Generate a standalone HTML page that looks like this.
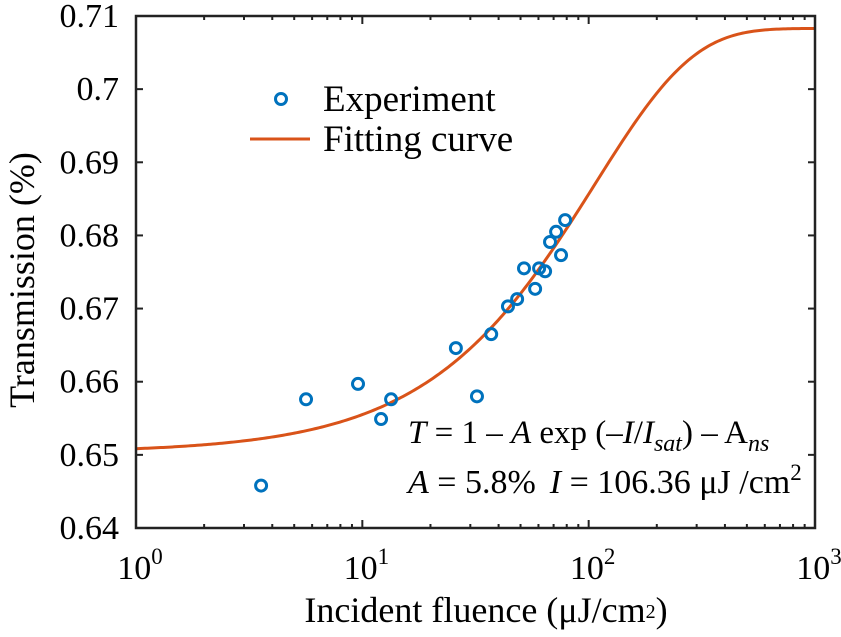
<!DOCTYPE html>
<html><head><meta charset="utf-8"><style>
body{margin:0;background:#fff;}
svg{display:block;font-family:"Liberation Serif",serif;}
</style></head><body>
<svg id="c" width="841" height="637"></svg>
<script>
const xVals=[3.57,5.64,9.57,12.1,13.4,25.9,32.1,37.1,44.0,48.3,51.8,58.0,60.4,64.2,67.5,71.8,75.5,78.7];
const yVals=[0.6458,0.6576,0.6597,0.6549,0.6576,0.6646,0.6580,0.6665,0.6703,0.6713,0.6755,0.6727,0.6755,0.6751,0.6791,0.6805,0.6773,0.6821];
const yTicks=[0.64,0.65,0.66,0.67,0.68,0.69,0.70,0.71];
const yTickLabels=["0.64","0.65","0.66","0.67","0.68","0.69","0.7","0.71"];
const xTickExps=[0,1,2,3];
const fitBase=0.6503, fitA=0.058, fitIsat=106.36;
const L=136,R=815,T=16,B=528;
const sx=v=>L+(Math.log10(v)-0)/3*(R-L);
const sy=v=>B-(v-0.64)/0.07*(B-T);
const svg=document.getElementById('c');const NS='http://www.w3.org/2000/svg';
function mk(tag,at,par){const e=document.createElementNS(NS,tag);for(const k in at)e.setAttribute(k,at[k]);(par||svg).appendChild(e);return e;}
let d='';for(let i=0;i<=300;i++){const v=Math.pow(10,i/100);const y=fitBase+fitA*(1-Math.exp(-v/fitIsat));d+=(i?'L':'M')+sx(v).toFixed(2)+','+sy(y).toFixed(2);}
const cv=mk('path',{d:d,fill:'none',stroke:'#d95319','stroke-width':3});


xVals.forEach((x,i)=>{const c=mk('circle',{cx:sx(x),cy:sy(yVals[i]),r:5.5,fill:'none',stroke:'#0072bd','stroke-width':3});

});
const bx=mk('rect',{x:L,y:T,width:R-L,height:B-T,fill:'none',stroke:'#222','stroke-width':2.5});


yTicks.forEach((v,i)=>{const y=sy(v);mk('line',{x1:L,x2:L+7,y1:y,y2:y,stroke:'#222','stroke-width':2});mk('line',{x1:R,x2:R-7,y1:y,y2:y,stroke:'#222','stroke-width':2});
const t=mk('text',{x:L-17,y:y+11,'text-anchor':'end','font-size':34});t.textContent=yTickLabels[i];

});
xTickExps.forEach(e=>{const x=sx(Math.pow(10,e));
for(let m=2;m<10&&e<3;m++){const xm=sx(m*Math.pow(10,e));mk('line',{x1:xm,x2:xm,y1:B,y2:B-4,stroke:'#222','stroke-width':2});mk('line',{x1:xm,x2:xm,y1:T,y2:T+4,stroke:'#222','stroke-width':2});}
mk('line',{x1:x,x2:x,y1:B,y2:B-8,stroke:'#222','stroke-width':2});mk('line',{x1:x,x2:x,y1:T,y2:T+8,stroke:'#222','stroke-width':2});
const t=mk('text',{x:x+4,y:B+51,'text-anchor':'middle','font-size':34});t.innerHTML='10<tspan dy="-15" font-size="23">'+e+'</tspan>';

});
</script>
<svg width="841" height="637" style="position:absolute;left:0;top:0">
<text x="486" y="622" text-anchor="middle" font-size="36" font-family="Liberation Serif,serif">Incident fluence (μJ/cm<tspan font-size="20" dy="-4">2</tspan><tspan dy="4">)</tspan></text>
<text transform="translate(34,280) rotate(-90)" text-anchor="middle" font-size="36" font-family="Liberation Serif,serif">Transmission (%)</text>
<g font-family="Liberation Serif,serif" font-size="37">
<circle cx="281" cy="99" r="5.5" fill="none" stroke="#0072bd" stroke-width="3"/>
<text x="323" y="111">Experiment</text>
<line x1="250" x2="310" y1="139" y2="139" stroke="#d95319" stroke-width="3"/>
<text x="323" y="151">Fitting curve</text>
</g>
<text x="408" y="443" font-size="33" font-family="Liberation Serif,serif"><tspan font-style="italic">T</tspan> = 1 – <tspan font-style="italic">A</tspan> exp (–<tspan font-style="italic">I</tspan>/<tspan font-style="italic">I</tspan><tspan font-style="italic" font-size="24" dy="8">sat</tspan><tspan dy="-8">) – A</tspan><tspan font-style="italic" font-size="24" dy="8">ns</tspan></text>
<text x="408" y="493" font-size="34" font-family="Liberation Serif,serif"><tspan font-style="italic">A</tspan> = 5.8%<tspan dx="14" font-style="italic">I</tspan> = 106.36 μJ /cm<tspan font-size="23" dy="-13">2</tspan></text>
</svg>
</body></html>
